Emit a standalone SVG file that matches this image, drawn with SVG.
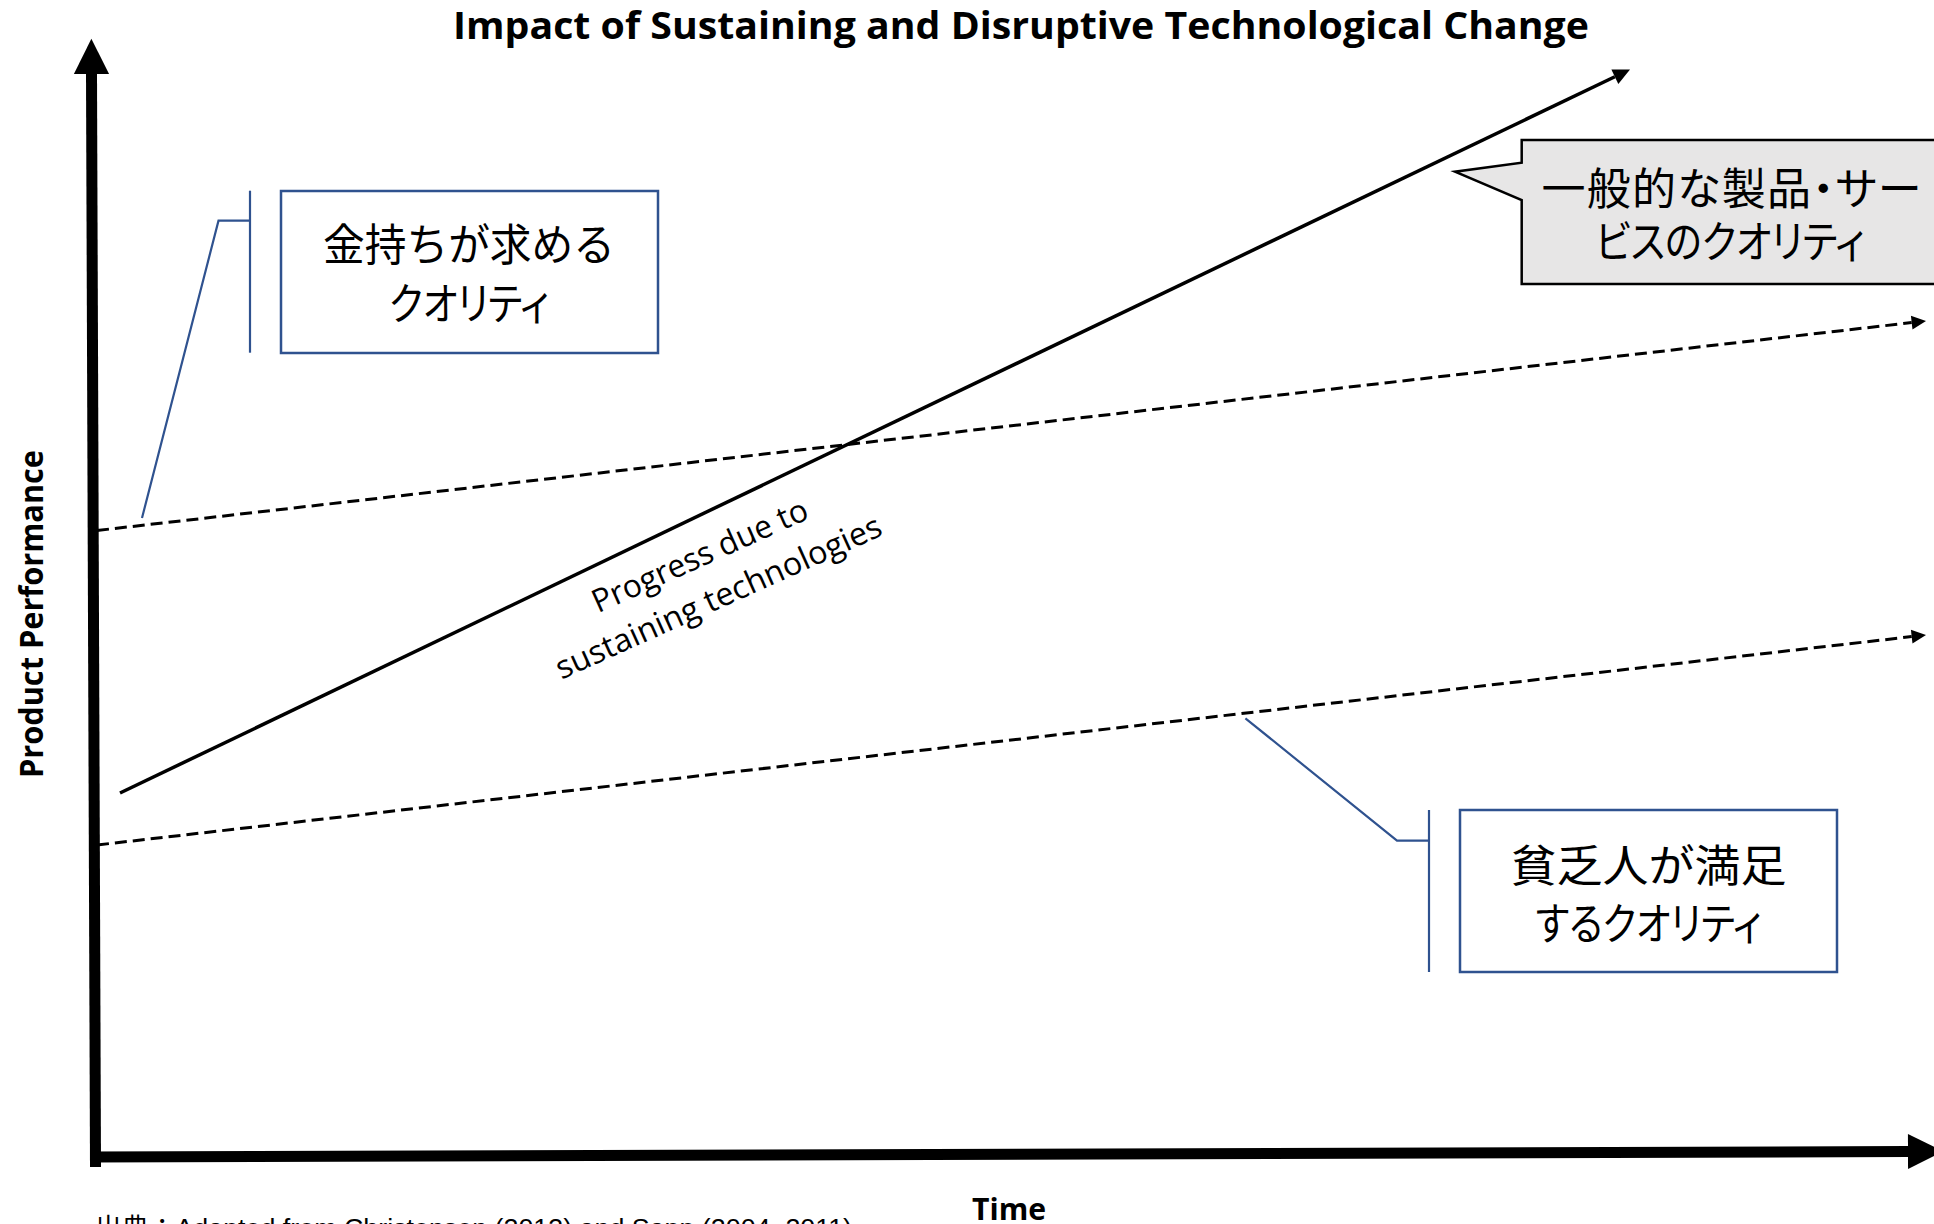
<svg xmlns="http://www.w3.org/2000/svg" width="1934" height="1224" viewBox="0 0 1934 1224">
<style>
.ax{stroke:#000;stroke-width:11;fill:none}
.sus{stroke:#000;stroke-width:3.5;fill:none}
.dash{stroke:#000;stroke-width:3;stroke-dasharray:12 6;fill:none}
.lead{stroke:#2F528F;stroke-width:2.2;fill:none}
.box{fill:#fff;stroke:#2F528F;stroke-width:2.5}
.call{fill:#E7E6E6;stroke:#000;stroke-width:2.5}
.jp{font-family:"Noto Sans CJK JP","Noto Sans CJK SC",sans-serif;font-size:44px;fill:#000;text-anchor:middle}
.kana{font-feature-settings:"palt"}
.lat{font-family:"Open Sans","Liberation Sans",sans-serif;fill:#000}
.b{font-weight:bold}
</style>
<defs>
<marker id="headSm" markerUnits="strokeWidth" markerWidth="5" markerHeight="5" refX="0" refY="2.3" orient="auto" overflow="visible">
<path d="M0,0 L4.8,2.3 L0,4.6 z" fill="#000"/>
</marker>
<marker id="headAx" markerUnits="strokeWidth" markerWidth="4" markerHeight="4" refX="0" refY="1.6" orient="auto" overflow="visible">
<path d="M0,0 L3.2,1.6 L0,3.2 z" fill="#000"/>
</marker>
</defs>
<rect width="1934" height="1224" fill="#fff"/>

<text id="title" class="lat b" x="453" y="39" font-size="38" textLength="1136" lengthAdjust="spacingAndGlyphs">Impact of Sustaining and Disruptive Technological Change</text>

<g id="axes">
<line class="ax" x1="95.5" y1="1167" x2="91.5" y2="74" marker-end="url(#headAx)"/>
<line class="ax" x1="90" y1="1157" x2="1908" y2="1151.5" marker-end="url(#headAx)"/>
</g>

<text id="ylabel" class="lat b" font-size="33" text-anchor="middle" transform="translate(43,614) rotate(-90)" textLength="328" lengthAdjust="spacingAndGlyphs">Product Performance</text>
<text id="xlabel" class="lat b" x="972" y="1220" font-size="31" textLength="74" lengthAdjust="spacingAndGlyphs">Time</text>

<g id="connectors">
<line id="sustaining" class="sus" x1="120" y1="793" x2="1614.85" y2="76.76" marker-end="url(#headSm)"/>
<line id="high-demand" class="dash" x1="97" y1="530.5" x2="1911.7" y2="322.6" marker-end="url(#headSm)"/>
<line id="low-demand" class="dash" x1="97" y1="845" x2="1911.7" y2="636.6" marker-end="url(#headSm)"/>
<polyline class="lead" points="142,518 218.5,220.7 250,220.7"/>
<line class="lead" x1="250" y1="190.7" x2="250" y2="352.7"/>
<polyline class="lead" points="1245.4,718.3 1397,840.7 1429,840.7"/>
<line class="lead" x1="1429" y1="810" x2="1429" y2="972"/>
</g>

<g id="sustaining-label" class="lat" font-size="32" text-anchor="middle" transform="translate(704.3,565.6) rotate(-24.2)">
<text x="0" y="0" textLength="233" lengthAdjust="spacingAndGlyphs">Progress due to</text>
<text x="0" y="45.5" textLength="354" lengthAdjust="spacingAndGlyphs">sustaining technologies</text>
</g>

<g id="rich">
<rect class="box" x="281" y="191" width="377" height="162"/>
<text class="jp" x="469" y="260.5" textLength="292" lengthAdjust="spacingAndGlyphs">金持ちが求める</text>
<text class="jp kana" x="469" y="319.5" textLength="160" lengthAdjust="spacingAndGlyphs">クオリティ</text>
</g>

<g id="general">
<path class="call" d="M1521.7,140 L1950,140 L1950,284 L1521.7,284 L1521.7,200 L1455,171.7 L1521.7,162.7 Z"/>
<text class="jp kana" x="1731.5" y="204.5" textLength="380" lengthAdjust="spacing">一般的な製品・サー</text>
<text class="jp kana" x="1730" y="257.5" textLength="269" lengthAdjust="spacingAndGlyphs">ビスのクオリティ</text>
</g>

<g id="poor">
<rect class="box" x="1460" y="810" width="377" height="162"/>
<text class="jp" x="1648.5" y="881.5" textLength="276" lengthAdjust="spacingAndGlyphs">貧乏人が満足</text>
<text class="jp kana" x="1648.5" y="939.5" textLength="226" lengthAdjust="spacingAndGlyphs">するクオリティ</text>
</g>

<text id="source" font-family="'Liberation Sans','Noto Sans CJK JP',sans-serif" font-size="26" x="95" y="1237" textLength="757" lengthAdjust="spacingAndGlyphs">出典：Adapted from Christensen (2013) and Sapp (2004, 2011)</text>
</svg>
